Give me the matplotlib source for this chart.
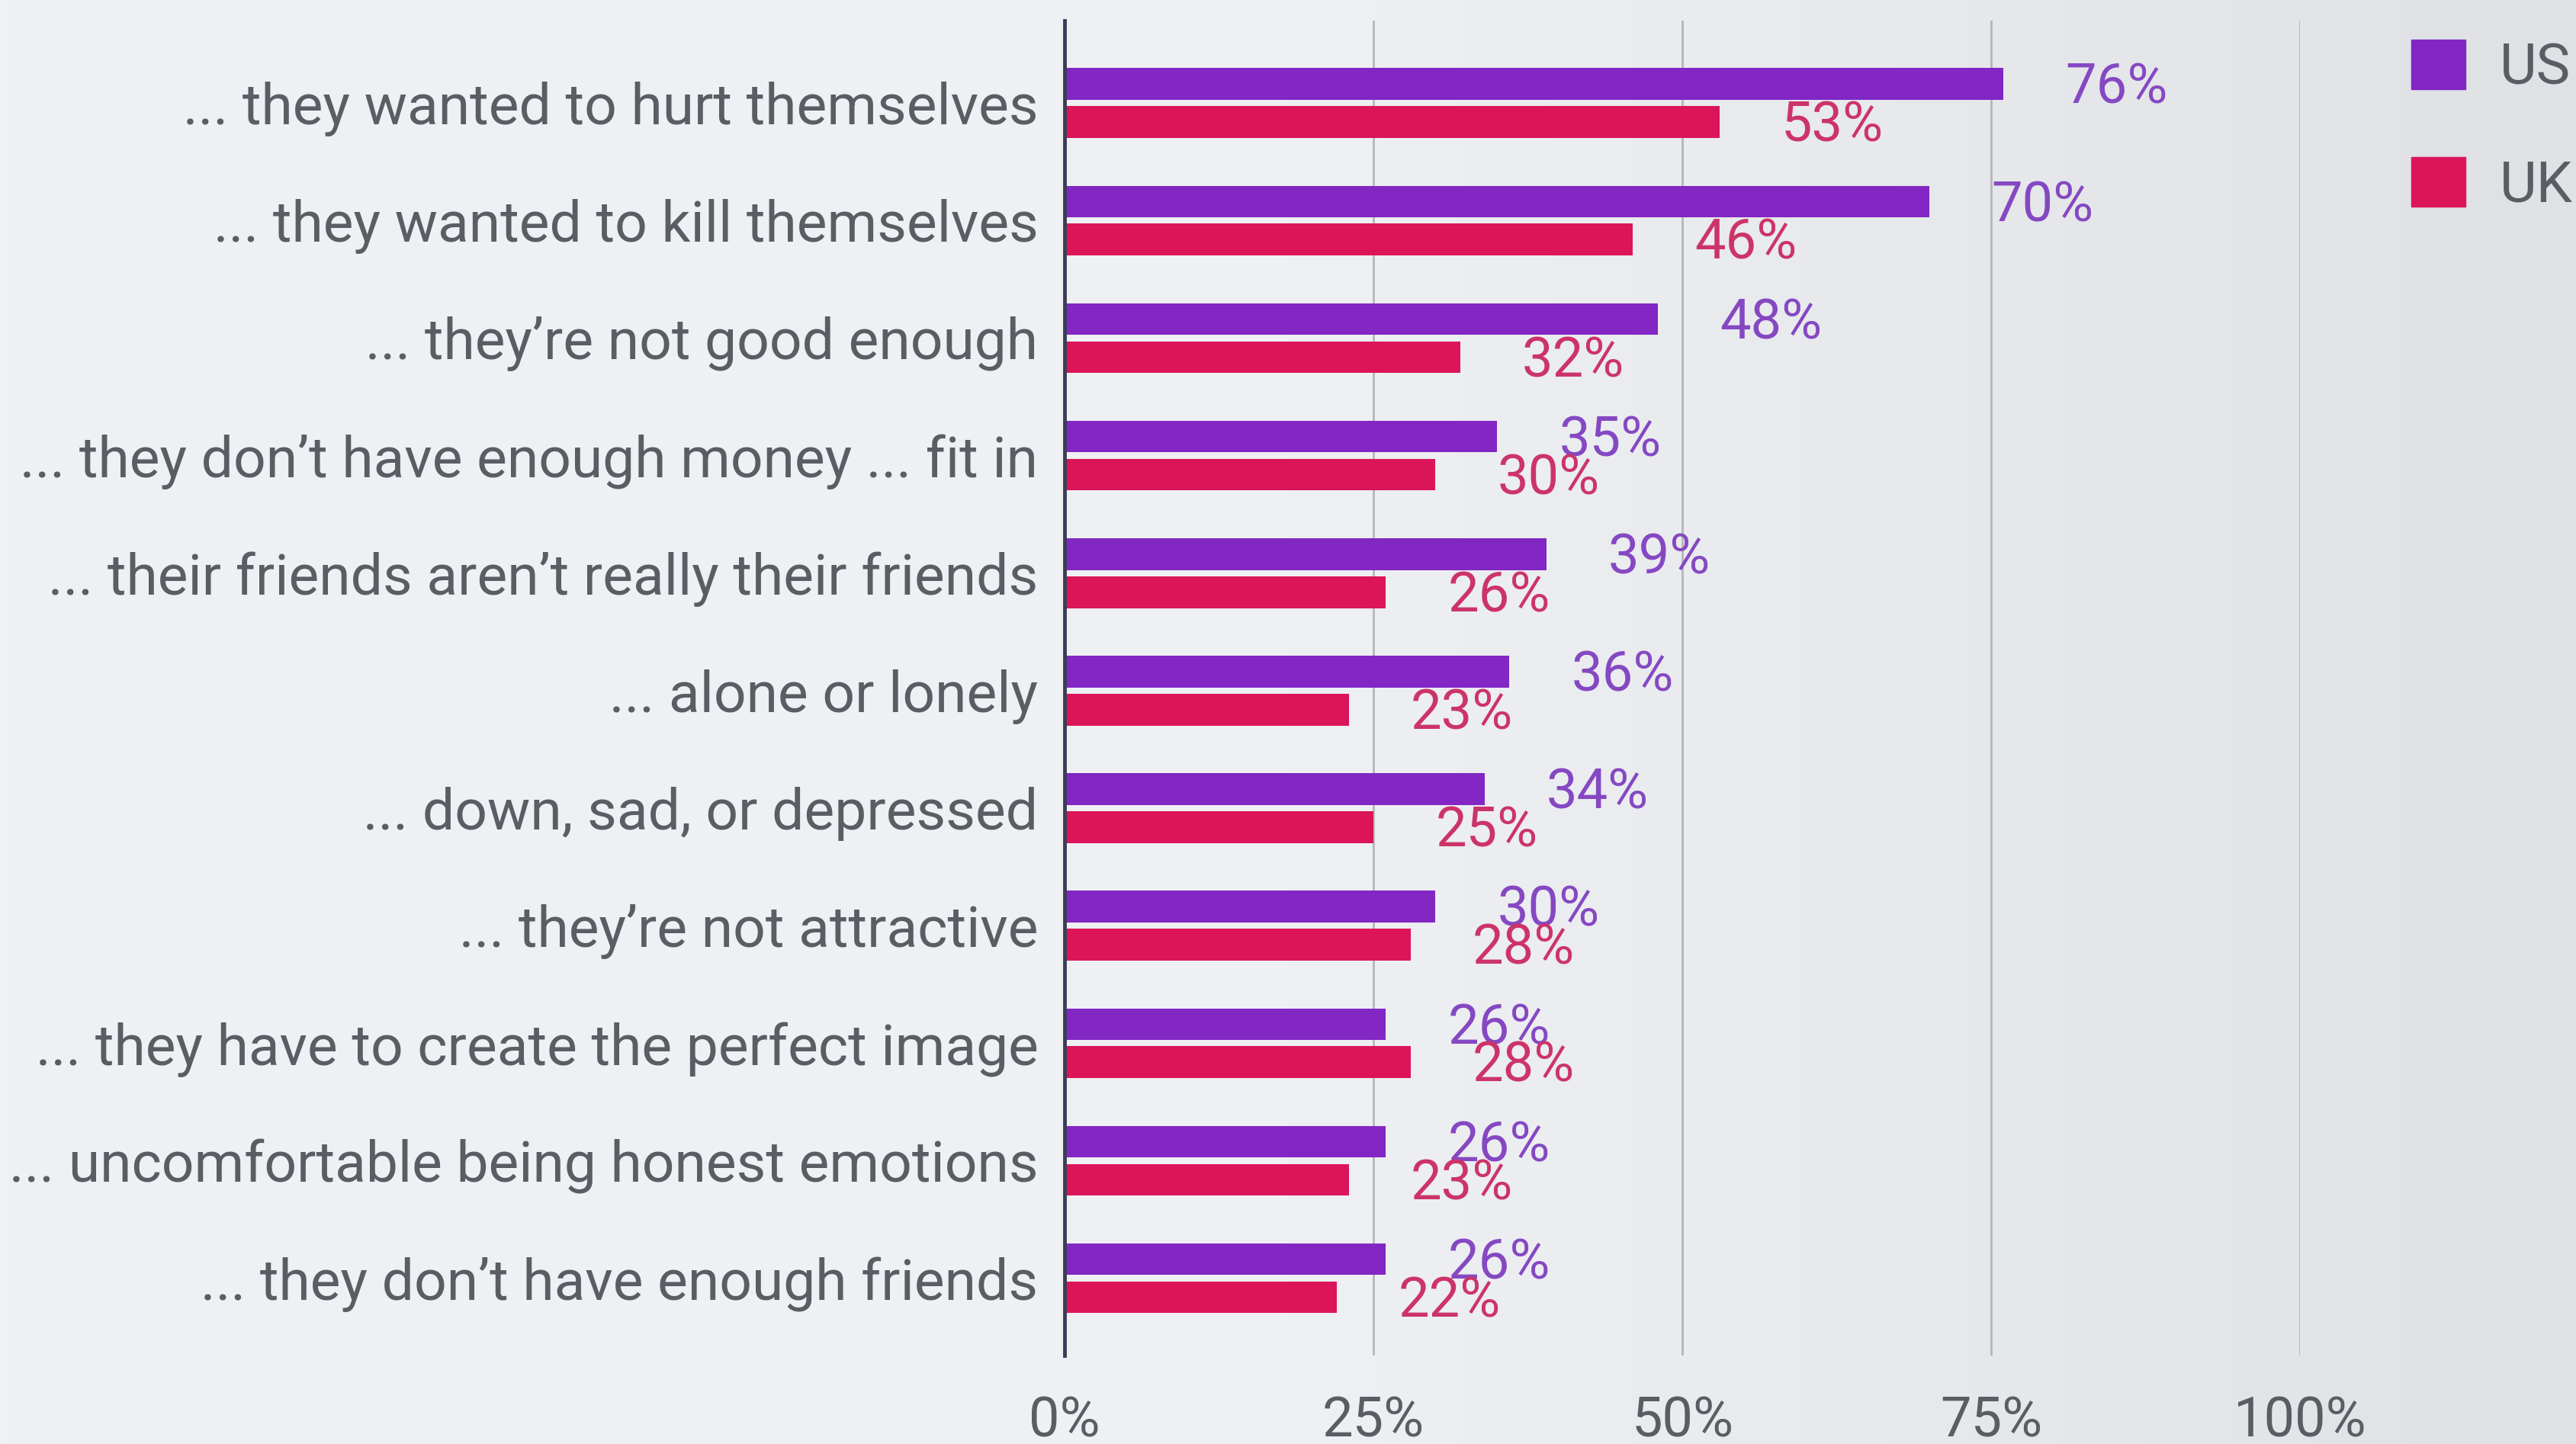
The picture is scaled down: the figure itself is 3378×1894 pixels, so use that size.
import numpy as np
import matplotlib
matplotlib.use("Agg")
import matplotlib.pyplot as plt
from matplotlib.patches import Patch
from matplotlib.colors import LinearSegmentedColormap

plt.rcParams['font.family'] = ['Roboto', 'DejaVu Sans']

categories = [
    "... they wanted to hurt themselves",
    "... they wanted to kill themselves",
    "... they\u2019re not good enough",
    "... they don\u2019t have enough money ... fit in",
    "... their friends aren\u2019t really their friends",
    "... alone or lonely",
    "... down, sad, or depressed",
    "... they\u2019re not attractive",
    "... they have to create the perfect image",
    "... uncomfortable being honest emotions",
    "... they don\u2019t have enough friends",
]
us = [76, 70, 48, 35, 39, 36, 34, 30, 26, 26, 26]
uk = [53, 46, 32, 30, 26, 23, 25, 28, 28, 23, 22]
xticks = [0, 25, 50, 75, 100]
xtick_labels = ["0%", "25%", "50%", "75%", "100%"]

us_color = "#8226c4"
uk_color = "#dc1558"
us_text = "#8548c2"
uk_text = "#cc3468"
grey_text = "#5a5e64"

fig = plt.figure(figsize=(33.78, 18.94), dpi=100)

# soft grey backdrop, a little darker to the right
bg = fig.add_axes([0, 0, 1, 1], zorder=-10)
grad = np.linspace(0, 1, 256)[None, :]
cmap = LinearSegmentedColormap.from_list("bg", ["#eff1f4", "#eef0f3", "#dfe1e4"])
bg.imshow(grad, aspect="auto", cmap=cmap, extent=[0, 1, 0, 1])
bg.axis("off")

ax = fig.add_axes([0.4133, 0.0614, 0.4796, 0.9246])
ax.set_facecolor("none")

y = np.arange(len(categories))
h = 0.27
off = 0.162
ax.barh(y - off, us, height=h, color=us_color, zorder=3)
ax.barh(y + off, uk, height=h, color=uk_color, zorder=3)

for yi, v in zip(y, us):
    ax.text(v + 5, yi - off + 0.04, f"{v}%", color=us_text, fontsize=52,
            va="center", ha="left", zorder=4)
for yi, v in zip(y, uk):
    ax.text(v + 5, yi + off + 0.04, f"{v}%", color=uk_text, fontsize=52,
            va="center", ha="left", zorder=4)

ax.set_xlim(0, 100)
ax.set_ylim(len(categories) - 1 + 0.656, -0.705)
ax.set_yticks(y)
ax.set_yticklabels(categories, fontsize=54, color=grey_text)
ax.set_xticks(xticks)
ax.set_xticklabels(xtick_labels, fontsize=52, color=grey_text)
ax.tick_params(axis="y", length=0, pad=25)
ax.tick_params(axis="x", length=0, pad=38)

for x in xticks[1:]:
    ax.axvline(x, color="#b4b6b9", lw=2, zorder=1)
for s in ["top", "right", "bottom"]:
    ax.spines[s].set_visible(False)
ax.spines["left"].set_color("#3a3d55")
ax.spines["left"].set_linewidth(3.5)
ax.spines["left"].set_zorder(5)

handles = [Patch(color=us_color, label="US"), Patch(color=uk_color, label="UK")]
fig.legend(handles=handles, loc="upper left", bbox_to_anchor=(0.916, 1.008),
           frameon=False, fontsize=54, handlelength=0.95, handleheight=0.95,
           handletextpad=0.6, labelspacing=1.08, labelcolor=grey_text)

fig.savefig("out.png", dpi=100)
